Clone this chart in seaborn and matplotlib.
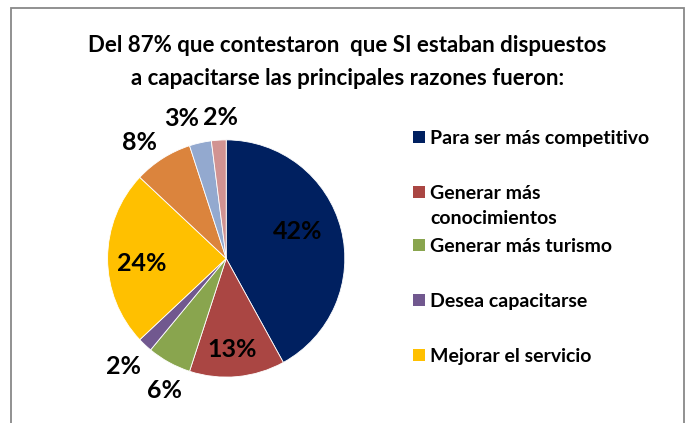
import numpy as np
import matplotlib
matplotlib.use("Agg")
import matplotlib.pyplot as plt
from matplotlib.patches import Rectangle
import seaborn as sns

# ---- data ----
categories = ["Para ser más competitivo", "Generar más\nconocimientos", "Generar más turismo",
              "Desea capacitarse", "Mejorar el servicio", "Otros 1", "Otros 2", "Otros 3"]
values = [42, 13, 6, 2, 24, 8, 3, 2]
pct_labels = ["42%", "13%", "6%", "2%", "24%", "8%", "3%", "2%"]
legend_count = 5
title = "Del 87% que contestaron  que SI estaban dispuestos\na capacitarse las principales razones fueron:"

colors = ["#002060", "#AA4643", "#89A54E", "#71588F", "#FFC000", "#DB843D", "#93A9CF", "#D19392"]

sns.set_theme(style="white")
plt.rcParams["font.family"] = ["Lato", "DejaVu Sans"]

W, H = 685, 423
fig = plt.figure(figsize=(W / 100, H / 100), dpi=100)
fig.patch.set_facecolor("white")

# frame
fig.patches.append(Rectangle((10.5 / W, -0.1), 673 / W, 1.1 - 8 / H, transform=fig.transFigure,
                             fill=False, edgecolor="#888888", linewidth=1.3, zorder=0))

# title
fig.text(347.5 / W, 1 - 62 / H, title, ha="center", va="center", multialignment="center",
         fontsize=16, fontweight="bold", color="#000000", linespacing=1.75)

# pie axes
cx, cy, r = 226.2, 258.5, 118.6
ax = fig.add_axes([(cx - r) / W, 1 - (cy + r) / H, 2 * r / W, 2 * r / H])
wedges, _ = ax.pie(values, colors=colors, startangle=90, counterclock=False,
                   wedgeprops=dict(edgecolor="white", linewidth=0.6))
ax.set_xlim(-1, 1)
ax.set_ylim(-1, 1)
ax.set_aspect("equal")
ax.axis("off")

# labels
label_r = [0.66, 0.77, 1.22, 1.25, 0.71, 1.18, 1.2, 1.19]
nudge_x = [-0.036, -0.02, 0.07, -0.01, 0.0, -0.095, -0.113, 0.03]
nudge_y = [0.062, 0.0, -0.04, 0.0, -0.04, -0.02, 0.01, 0.0]
cum = np.cumsum([0] + values[:-1])
total = sum(values)
for i, (v, c0) in enumerate(zip(values, cum)):
    ang = np.deg2rad(90 - 360 * (c0 + v / 2) / total)
    x = label_r[i] * np.cos(ang) + nudge_x[i]
    y = label_r[i] * np.sin(ang) + nudge_y[i]
    ax.text(x, y, pct_labels[i], ha="center", va="center", fontsize=18,
            fontweight="bold", color="black", clip_on=False)

# legend (manual, Excel-like)
centers = [137, 192, 245, 300, 355]
line_gap = 25
for i in range(legend_count):
    yc = centers[i]
    fig.patches.append(Rectangle((413 / W, 1 - (yc + 6) / H), 12 / W, 12 / H,
                                 transform=fig.transFigure, facecolor=colors[i],
                                 edgecolor="none"))
    for k, line in enumerate(categories[i].split("\n")):
        fig.text(430 / W, 1 - (yc + 7 + k * line_gap) / H, line, ha="left", va="baseline",
                 fontsize=14, fontweight="bold", color="black")

fig.savefig("out.png", dpi=100, facecolor="white")
